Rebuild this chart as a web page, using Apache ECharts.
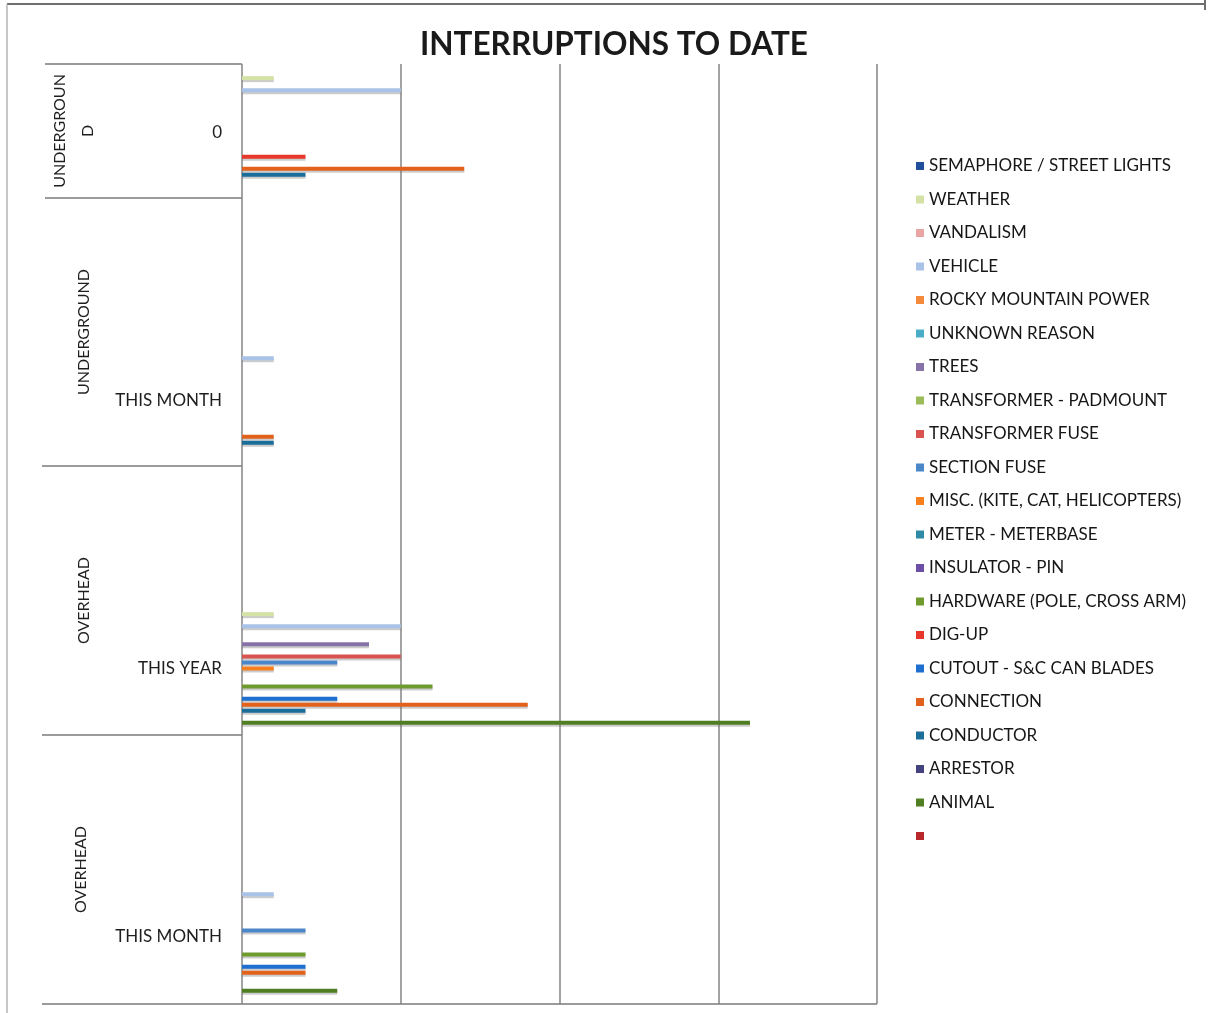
<!DOCTYPE html>
<html>
<head>
<meta charset="utf-8">
<title>Interruptions to Date</title>
<script src="https://cdn.jsdelivr.net/npm/echarts@6/dist/echarts.min.js"></script>
<style>
  html, body { margin: 0; padding: 0; background: #fff; }
  #chart { width: 1209px; height: 1013px; }
</style>
</head>
<body>
<div id="chart"></div>
<script>
// Category rows, listed bottom to top on the axis
const groups  = ['OVERHEAD', 'OVERHEAD', 'UNDERGROUND', 'UNDERGROUN\nD'];
const periods = ['THIS MONTH', 'THIS YEAR', 'THIS MONTH', '0'];

// Causes, in legend order (top bar of each cluster first)
const causes = [
  'SEMAPHORE / STREET LIGHTS', 'WEATHER', 'VANDALISM', 'VEHICLE',
  'ROCKY MOUNTAIN POWER', 'UNKNOWN REASON', 'TREES', 'TRANSFORMER - PADMOUNT',
  'TRANSFORMER FUSE', 'SECTION FUSE', 'MISC. (KITE, CAT, HELICOPTERS)',
  'METER - METERBASE', 'INSULATOR - PIN', 'HARDWARE (POLE, CROSS ARM)',
  'DIG-UP', 'CUTOUT - S&C CAN BLADES', 'CONNECTION', 'CONDUCTOR',
  'ARRESTOR', 'ANIMAL', ' '
];

// Interruption counts per cause, one array per row
const overheadMonth    = [0, 0, 0, 1, 0, 0, 0, 0, 0, 2, 0, 0, 0, 2, 0, 2, 2, 0, 0, 3, 0];
const overheadYear     = [0, 1, 0, 5, 0, 0, 4, 0, 5, 3, 1, 0, 0, 6, 0, 3, 9, 2, 0, 16, 0];
const undergroundMonth = [0, 0, 0, 1, 0, 0, 0, 0, 0, 0, 0, 0, 0, 0, 0, 0, 1, 1, 0, 0, 0];
const undergroundZero  = [0, 1, 0, 5, 0, 0, 0, 0, 0, 0, 0, 0, 0, 0, 2, 0, 7, 2, 0, 0, 0];

const colors = [
  '#1F4E9A', '#D4E2A6', '#E8A5A3', '#A9C3E8', '#F58A3C', '#4BACC6', '#8773A8',
  '#9BBB59', '#D9534F', '#4A86C8', '#F7801E', '#2E8BA8', '#6B4FA8', '#6E9A2E',
  '#E8382C', '#1E6FD0', '#E2621B', '#1C6E9A', '#45407E', '#4F7F22', '#B8282A'
];

const rows = [overheadMonth, overheadYear, undergroundMonth, undergroundZero];
const categoryKeys = groups.map((g, i) => g + '|' + periods[i]);

const FONT = 'Lato, "Open Sans", sans-serif';
const LINE = '#858585';

const series = causes.map((name, s) => ({
  name: name,
  type: 'bar',
  xAxisIndex: 1,
  yAxisIndex: 1,
  barWidth: 4,
  barGap: '51%',
  clip: false,
  silent: true,
  itemStyle: {
    color: colors[s],
    shadowColor: 'rgba(110,110,110,0.35)',
    shadowOffsetY: 2
  },
  data: rows.map(r => r[s])
}));

// Row boxes of the two-level category labels (top, bottom in pixels), bottom row first
const boxes = [[735, 1004], [466, 735], [198, 466], [64, 198]];
const groupX = [81, 84, 84, 74];

const graphic = [
  // page frame
  { type: 'line', shape: { x1: 7, y1: 4, x2: 1205, y2: 4 }, style: { stroke: '#6e6e6e', lineWidth: 2 } },
  { type: 'line', shape: { x1: 7, y1: 4, x2: 7, y2: 1013 }, style: { stroke: '#b5b5b5', lineWidth: 1.5 } },
  { type: 'line', shape: { x1: 1205, y1: 0, x2: 1205, y2: 10 }, style: { stroke: '#6e6e6e', lineWidth: 2 } },
  // plot bottom edge
  { type: 'line', shape: { x1: 42, y1: 1004, x2: 877, y2: 1004 }, style: { stroke: '#7a7a7a', lineWidth: 1.5 } }
];
boxes.forEach((b, i) => {
  const left = i < 2 ? 42 : 45;
  graphic.push({ type: 'line', shape: { x1: left, y1: b[0], x2: 242, y2: b[0] },
                 style: { stroke: '#7a7a7a', lineWidth: 1.5 } });
  graphic.push({
    type: 'text', x: groupX[i], y: (b[0] + b[1]) / 2, rotation: Math.PI / 2,
    style: { text: groups[i], font: '16px ' + FONT, fill: '#1e1e1e', align: 'center',
             verticalAlign: 'middle', lineHeight: 28 }
  });
});

const chart = echarts.init(document.getElementById('chart'), null, { renderer: 'canvas' });
chart.setOption({
  animation: false,
  backgroundColor: '#fff',
  title: {
    text: 'INTERRUPTIONS TO DATE',
    left: 420,
    top: 29,
    padding: 0,
    textStyle: { fontFamily: FONT, fontWeight: 'bold', fontSize: 31.5, color: '#1a1a1a' }
  },
  legend: {
    orient: 'vertical',
    left: 911,
    top: 151,
    itemWidth: 8,
    itemHeight: 8,
    itemGap: 13.5,
    icon: 'rect',
    selectedMode: false,
    textStyle: { fontFamily: FONT, fontSize: 17, color: '#161616', lineHeight: 20 },
    data: causes
  },
  grid: [
    // frame with the vertical gridlines
    { left: 242, right: 332, top: 64, bottom: 9 },
    // bar area: rows sit on ticks, first and last row on the grid edges
    { left: 242, right: 332, top: 132.5, bottom: 76.5 }
  ],
  xAxis: [
    { type: 'value', gridIndex: 0, min: 0, max: 20, interval: 5,
      axisLine: { show: false }, axisTick: { show: false }, axisLabel: { show: false },
      splitLine: { show: true, lineStyle: { color: LINE, width: 1.5 } } },
    { type: 'value', gridIndex: 1, min: 0, max: 20, interval: 5, show: false,
      splitLine: { show: false } }
  ],
  yAxis: [
    { type: 'value', gridIndex: 0, show: false },
    { type: 'category', gridIndex: 1, data: categoryKeys, boundaryGap: false,
      axisLine: { show: false }, axisTick: { show: false }, splitLine: { show: false },
      axisLabel: { margin: 20, fontFamily: FONT, fontSize: 17, color: '#1e1e1e',
                   formatter: v => v.split('|')[1] } }
  ],
  graphic: graphic,
  series: series
});
</script>
</body>
</html>
